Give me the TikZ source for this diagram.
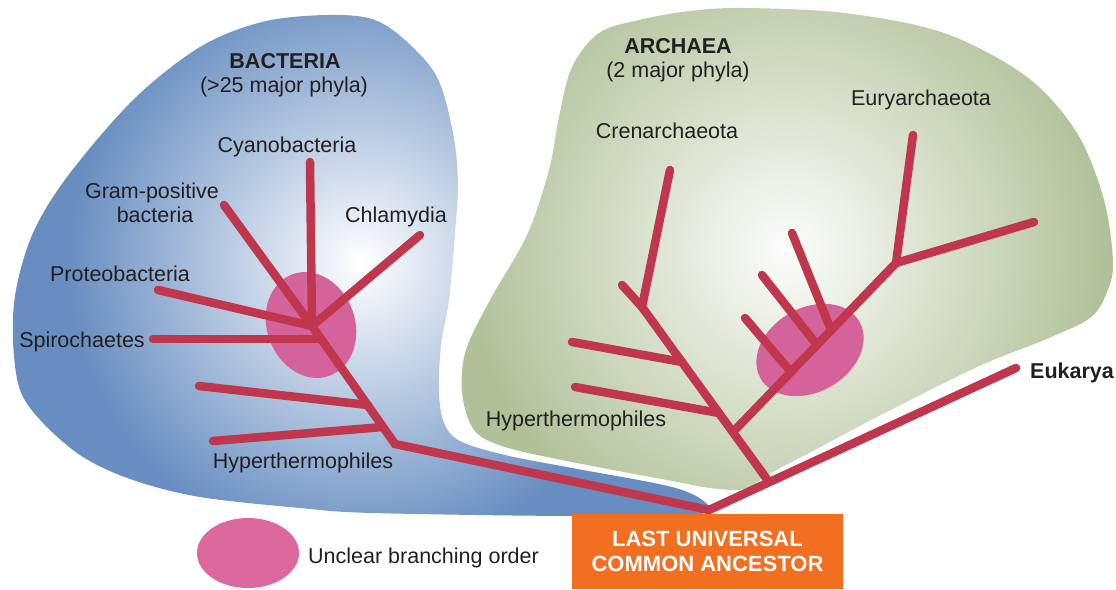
\documentclass[tikz,border=0pt]{standalone}
\usepackage{fontspec}
\setmainfont{Liberation Sans}
\usetikzlibrary{shapes.geometric}
\definecolor{branchred}{HTML}{C0364D}
\definecolor{bluedark}{HTML}{688EC1}
\definecolor{greendark}{HTML}{B0C198}
\definecolor{pinkfill}{HTML}{DC689D}
\definecolor{pinktree}{HTML}{D5639B}
\definecolor{lucaorange}{HTML}{F26F21}
\definecolor{txt}{HTML}{231F20}
\pgfdeclareradialshading{bactshade}{\pgfpointorigin}{color(0bp)=(white); color(290bp)=(bluedark); color(720bp)=(bluedark)}
\pgfdeclareradialshading{archshade}{\pgfpointorigin}{color(0bp)=(white!97!greendark); color(320bp)=(greendark); color(720bp)=(greendark)}
\begin{document}
\begin{tikzpicture}[x=1pt,y=-1pt,
  branch/.style={draw=branchred, line width=8.5pt, line cap=round, line join=miter},
  lbl/.style={text=txt, font=\fontsize{21.5}{24}\selectfont, inner sep=0pt, anchor=base},
  head/.style={lbl, font=\fontsize{21.5}{24}\selectfont\bfseries},
  blob/.style={ellipse, inner sep=0pt},
  lucabox/.style={fill=lucaorange, text=white, inner sep=0pt, align=center,
    font=\fontsize{22}{25}\selectfont\bfseries, minimum width=271pt, minimum height=75pt}]
\useasboundingbox (0,0) rectangle (1116,589);

% Bacteria domain
\begin{scope}
\clip plot[smooth cycle, tension=0.55] coordinates {
 (325,15) (372,19) (405,40) (437,77) (453,133) (458,183) (455,233) (449,300)
 (441,345) (439,392) (444,423) (460,441) (505,455) (572,468) (672,487) (706,503)
 (700,514) (572,516) (372,513) (300,508) (200,497) (133,480) (83,457) (43,423)
 (20,390) (13,340) (16,290) (33,233) (67,177) (133,100) (200,47) (262,22)};
\node (bshade) [inner sep=0pt] at (360,263) {\pgfuseshading{bactshade}};
\end{scope}

% Archaea domain
\begin{scope}
\clip plot[smooth cycle, tension=0.55] coordinates {
 (744,8) (844,13) (944,33) (1027,77) (1077,133) (1104,200) (1113,262) (1107,292)
 (1090,318) (1044,340) (977,367) (877,417) (811,452) (771,473) (745,489) (710,488)
 (672,481) (572,462) (505,447) (474,430) (462,392) (466,350) (490,300) (527,235)
 (549,170) (559,117) (572,67) (599,33) (639,20) (690,11)};
\node (ashade) [inner sep=0pt] at (787,250) {\pgfuseshading{archshade}};
\end{scope}

% unclear-branching ellipses
\node (ub) [blob, fill=pinktree, minimum width=88pt, minimum height=108pt, rotate=20] at (311,325) {};
\node (ua) [blob, fill=pinktree, minimum width=114pt, minimum height=84pt, rotate=30] at (810,350) {};
\node (leg) [blob, fill=pinkfill, minimum width=102pt, minimum height=70pt] at (248,553) {};

% tree coordinates
\coordinate (L) at (709,510);
\coordinate (K) at (395,444);
\coordinate (H) at (312,326);
\coordinate (cy) at (310,162);
\coordinate (gp) at (224,205);
\coordinate (ch) at (420,235);
\coordinate (pr) at (158,290);
\coordinate (sp) at (153,339);
\coordinate (spj) at (321,339);
\coordinate (b3) at (199,386);
\coordinate (b3j) at (368,405);
\coordinate (b4) at (213,441);
\coordinate (b4j) at (383,427);
\coordinate (eu) at (1016,368);
\coordinate (A0) at (769,482);
\coordinate (T) at (642,307);
\coordinate (cr) at (670,170);
\coordinate (t1) at (622,285);
\coordinate (a3) at (572,342);
\coordinate (a3j) at (682,362);
\coordinate (a4) at (575,387);
\coordinate (a4j) at (719,413);
\coordinate (J) at (733,432);
\coordinate (E) at (896,263);
\coordinate (ey) at (913,135);
\coordinate (er) at (1034,222);
\coordinate (c1) at (745,318);
\coordinate (c1j) at (791,372);
\coordinate (c2) at (762,275);
\coordinate (c2j) at (817,345);
\coordinate (c3) at (792,233);
\coordinate (c3j) at (831,330);

% bacteria branches
\draw[branch] (H) -- (K) -- (L) -- (eu);
\draw[branch] (cy) -- (H);
\draw[branch] (gp) -- (H);
\draw[branch] (ch) -- (H);
\draw[branch] (pr) -- (H);
\draw[branch] (sp) -- (spj);
\draw[branch] (b3) -- (b3j);
\draw[branch] (b4) -- (b4j);
% archaea branches
\draw[branch] (A0) -- (T) -- (cr);
\draw[branch] (t1) -- (T);
\draw[branch] (a3) -- (a3j);
\draw[branch] (a4) -- (a4j);
\draw[branch] (J) -- (E) -- (ey);
\draw[branch] (er) -- (E);
\draw[branch] (c1) -- (c1j);
\draw[branch] (c2) -- (c2j);
\draw[branch] (c3) -- (c3j);

% labels
\node (bact) [head] at (285,68) {BACTERIA};
\node (bactn) [lbl] at (284,92) {(>25 major phyla)};
\node (cyano) [lbl] at (287,152) {Cyanobacteria};
\node (gram1) [lbl] at (152,198) {Gram-positive};
\node (gram2) [lbl] at (155,222) {bacteria};
\node (chla) [lbl] at (396,222) {Chlamydia};
\node (prot) [lbl] at (120,281) {Proteobacteria};
\node (spir) [lbl] at (82,347) {Spirochaetes};
\node (hypb) [lbl] at (303,468) {Hyperthermophiles};
\node (arch) [head] at (678,53) {ARCHAEA};
\node (archn) [lbl] at (678,77) {(2 major phyla)};
\node (cren) [lbl] at (667,138) {Crenarchaeota};
\node (eury) [lbl] at (921,105) {Euryarchaeota};
\node (hypa) [lbl] at (576,426) {Hyperthermophiles};
\node (euk) [head, anchor=base west] at (1030,378) {Eukarya};
\node (legt) [lbl, anchor=base west] at (308,563) {Unclear branching order};
\node (luca) [lucabox] at (707.5,551.5) {LAST UNIVERSAL\\COMMON ANCESTOR};
\end{tikzpicture}
\end{document}
